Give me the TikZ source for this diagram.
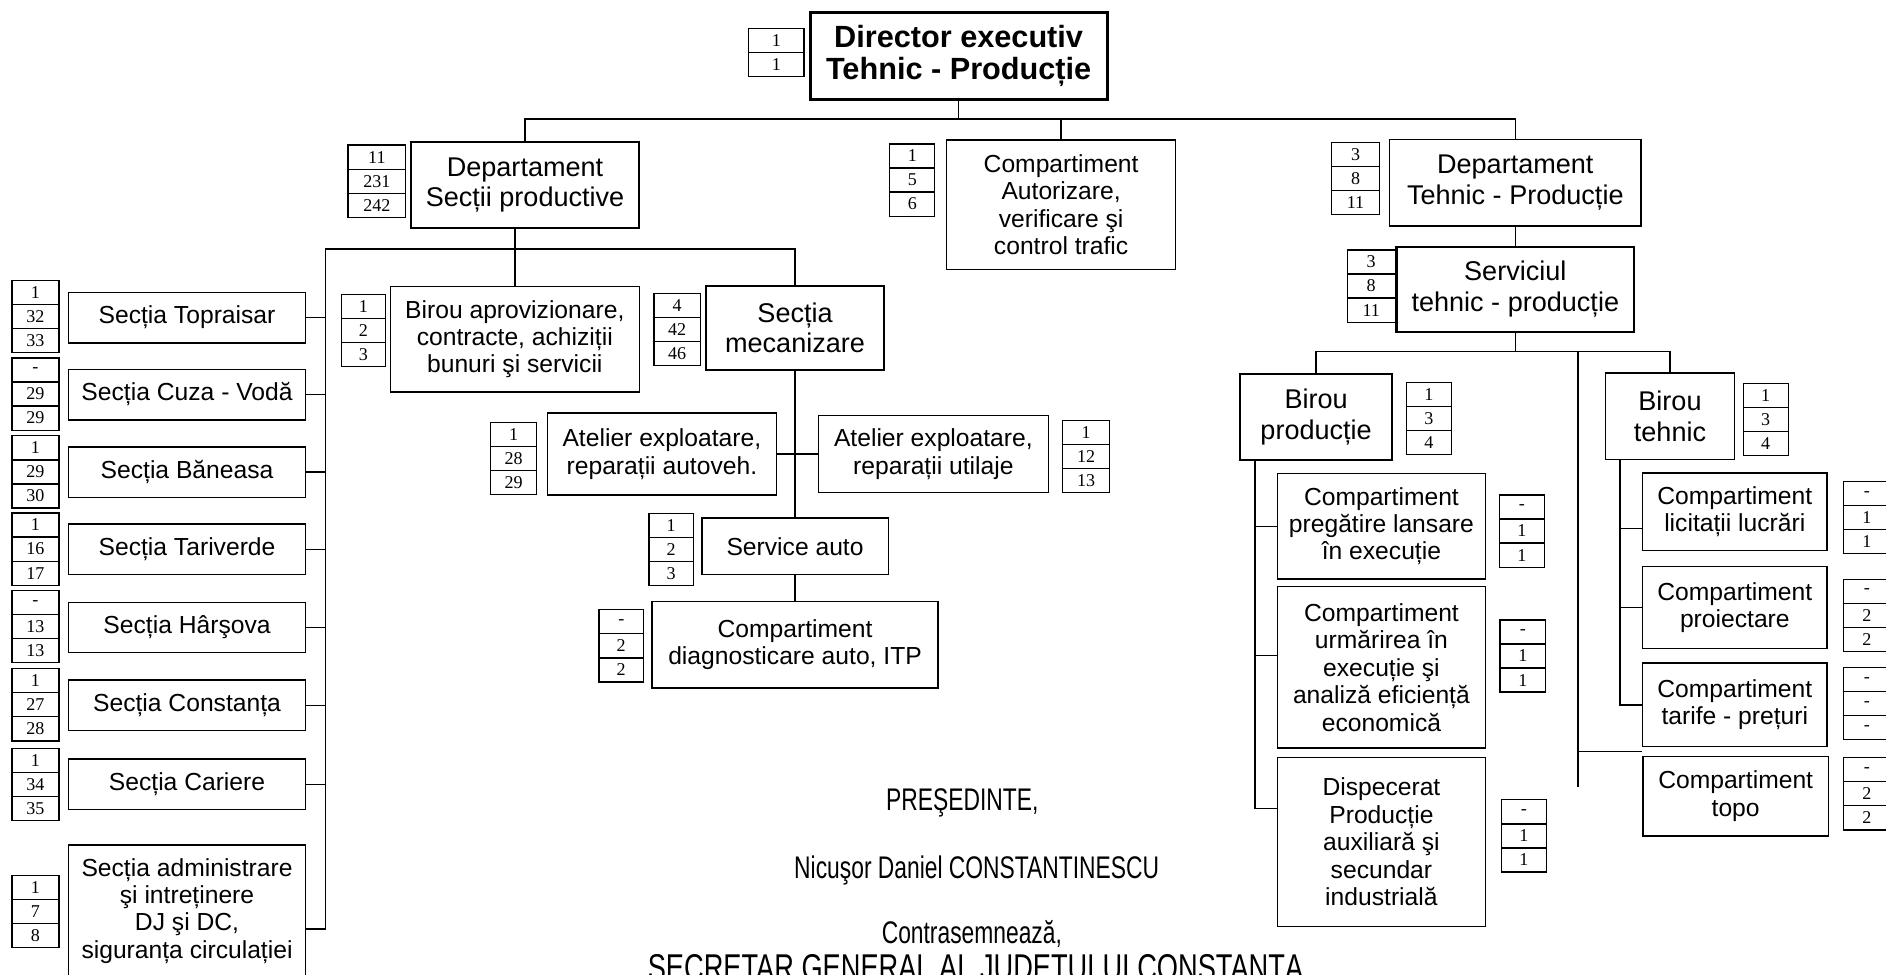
\documentclass[tikz,border=0pt]{standalone}
\usepackage{fontspec}
\setmainfont{Liberation Sans}
\newfontfamily\numfont{Liberation Serif}
\newfontfamily\narrowfont[FakeStretch=0.73]{Liberation Sans}
% column of staff counts next to a box
\newcommand{\numcol}[5][39]{%
  \foreach \val [count=\i] in {#5}
    \node[cell, minimum width=#1pt] (#2\i) at (#3, #4+20*\i-10) {\val};}
\begin{document}
\begin{tikzpicture}[x=1pt, y=-1pt,
    box/.style={draw, line width=1.2pt, align=center, inner sep=0pt, font=\fontsize{20.5}{22.8}\selectfont},
    bigbox/.style={box, font=\fontsize{22.5}{25.5}\selectfont},
    wh/.style 2 args={minimum width=#1pt, minimum height=#2pt},
    cell/.style={draw, line width=1pt, minimum height=20pt, inner sep=0pt, font=\numfont\fontsize{15}{15}\selectfont},
    link/.style={line width=1.2pt},
    sign/.style={anchor=base, font=\narrowfont\fontsize{26}{28}\selectfont}]
    \useasboundingbox (0,0) rectangle (1568,810);
    \clip (0,0) rectangle (1568,810);
    \node[box, line width=2.6pt, wh={247}{72}, font=\bfseries\fontsize{25.5}{27}\selectfont] (dir) at (797,46.5) {Director executiv\\Tehnic - Producție};
    \numcol[46]{dirn}{645.5}{23.6}{1,1}
    \node[bigbox, line width=1.6pt, wh={190}{72}] (dsp) at (436.5,153.8) {Departament\\Secții productive};
    \numcol[48]{dspn}{313.3}{120.6}{11,231,242}
    \node[box, wh={190.5}{107.6}] (cav) at (882.2,170.2) {Compartiment\\Autorizare,\\verificare şi\\control trafic};
    \numcol[37.4]{cavn}{758.5}{119.7}{1,5,6}
    \node[bigbox, wh={209}{72}] (dtp) at (1259.8,151.9) {Departament\\Tehnic - Producție};
    \numcol[39.6]{dtpn}{1127}{118.6}{3,8,11}
    \node[bigbox, line width=1.8pt, wh={197.5}{70.7}] (serv) at (1259.8,240.4) {Serviciul\\tehnic - producție};
    \numcol[40]{servn}{1140}{207.8}{3,8,11}
    % sectii
    \node[box, wh={197}{42}] (top) at (155.5,264) {Secția Topraisar};
    \numcol{topn}{29.5}{233}{1,32,33}
    \node[box, wh={197}{42}] (cuza) at (155.5,328) {Secția Cuza - Vodă};
    \numcol{cuzan}{29.5}{297.6}{-,29,29}
    \node[box, wh={197}{42}] (ban) at (155.5,392.5) {Secția Băneasa};
    \numcol{bann}{29.5}{362.4}{1,29,30}
    \node[box, wh={197}{42}] (tar) at (155.5,456.8) {Secția Tariverde};
    \numcol{tarn}{29.5}{426.5}{1,16,17}
    \node[box, wh={197}{42}] (har) at (155.5,521.7) {Secția Hârşova};
    \numcol{harn}{29.5}{491}{-,13,13}
    \node[box, wh={197}{42}] (cta) at (155.5,586.5) {Secția Constanța};
    \numcol{ctan}{29.5}{556}{1,27,28}
    \node[box, wh={197}{42}] (car) at (155.5,652) {Secția Cariere};
    \numcol{carn}{29.5}{622}{1,34,35}
    \node[box, wh={197}{128}] (adm) at (155.5,766.5) {Secția administrare\\şi intreținere\\DJ şi DC,\\siguranța circulației\\\mbox{}};
    \numcol{admn}{29.5}{728}{1,7,8}
    \node[box, wh={207}{88}] (bap) at (428,282) {Birou aprovizionare,\\contracte, achiziții\\bunuri şi servicii};
    \numcol[37]{bapn}{302.2}{245}{1,2,3}
    \node[bigbox, line width=2pt, wh={148}{70}] (mec) at (661,272.6) {Secția\\mecanizare};
    \numcol[38.6]{mecn}{563}{244}{4,42,46}
    \node[box, wh={190.6}{68}] (aav) at (550.3,377.5) {Atelier exploatare,\\reparații autoveh.};
    \numcol[38.5]{aavn}{427}{351.4}{1,28,29}
    \node[box, wh={191}{64}] (aut) at (776,377.5) {Atelier exploatare,\\reparații utilaje};
    \numcol{autn}{903}{349.7}{1,12,13}
    \node[box, wh={155}{47}] (sa) at (661,454.3) {Service auto};
    \numcol[37]{san}{558}{426.6}{1,2,3}
    \node[box, wh={238}{72}] (diag) at (661,536.1) {Compartiment\\diagnosticare auto, ITP};
    \numcol[37]{diagn}{516.5}{507}{-,2,2}
    % tehnic - productie
    \node[bigbox, wh={126.3}{71.5}] (bp) at (1094.2,346.8) {Birou\\producție};
    \numcol[37.4]{bpn}{1188}{318}{1,3,4}
    \node[bigbox, wh={107}{72}] (bt) at (1388.4,346) {Birou\\tehnic};
    \numcol[37.6]{btn}{1468}{318.6}{1,3,4}
    \node[box, wh={173}{88}] (prep) at (1148.5,437.5) {Compartiment\\pregătire lansare\\în execuție};
    \numcol[37.4]{prepn}{1265.3}{411.5}{-,1,1}
    \node[box, wh={173}{134.3}] (urm) at (1148.5,554.9) {Compartiment\\urmărirea în\\execuție şi\\analiză eficiență\\economică};
    \numcol[37.7]{urmn}{1266}{515.4}{-,1,1}
    \node[box, wh={173}{140.8}] (disp) at (1148.5,700) {Dispecerat\\Producție\\auxiliară şi\\secundar\\industrială};
    \numcol[38]{dispn}{1267}{665}{-,1,1}
    \node[box, wh={153.5}{64.6}] (lic) at (1442.3,425.5) {Compartiment\\licitații lucrări};
    \numcol{licn}{1552}{400.5}{-,1,1}
    \node[box, wh={153.5}{68}] (proi) at (1442.3,505) {Compartiment\\proiectare};
    \numcol{proin}{1552}{481.5}{-,2,2}
    \node[box, wh={153.5}{69.5}] (tarf) at (1442.3,586) {Compartiment\\tarife - prețuri};
    \numcol{tarfn}{1552}{555}{-,-,-}
    \node[box, wh={154}{66}] (topo) at (1443,662) {Compartiment\\topo};
    \numcol{topon}{1552}{630}{-,2,2}
    % connectors
    \coordinate (dbus) at (797,99);
    \draw[link] (dir.south) -- (dbus) -| (dsp.north);
    \draw[link] (dbus) -| (cav.north);
    \draw[link] (dbus) -| (dtp.north);
    \draw[link] (bap.north |- dsp.south) -- (bap.north);
    \coordinate (lsp) at (270.4,207);
    \draw[link] ([yshift=-6pt]adm.east) -| (lsp) -| (mec.north);
    \foreach \n in {top,cuza,ban,tar,har,cta,car}
      \draw[link] (\n.east) -- (\n.east -| lsp);
    \draw[link] (mec.south) -- (sa.north);
    \draw[link] (aav.east) -- (aut.west);
    \draw[link] (sa.south) -- (diag.north);
    \draw[link] (dtp.south) -- (serv.north);
    \coordinate (sbus) at (1259.8,292.3);
    \draw[link] (serv.south) -- (sbus) -| (bp.north);
    \draw[link] (sbus) -| (bt.north);
    \coordinate (mtop) at (1312,292.3);
    \coordinate (mend) at (1312,654);
    \coordinate (mbr) at (1312,625);
    \draw[link] (mtop) -- (mend);
    \draw[link] (mbr) -- (mbr -| topo.west);
    \draw[link] ([xshift=13pt]bp.south west) |- (prep.west);
    \draw[link] ([xshift=13pt]bp.south west) |- ([yshift=10pt]urm.west);
    \draw[link] ([xshift=13pt]bp.south west) |- ([yshift=28pt]disp.west);
    \draw[link] ([xshift=12.4pt]bt.south west) |- ([yshift=-14pt]lic.west);
    \draw[link] ([xshift=12.4pt]bt.south west) |- (proi.west);
    \draw[link] ([xshift=12.4pt]bt.south west) |- (tarf.west);
    % semnaturi
    \node[sign] (pres) at (800,674) {PREŞEDINTE,};
    \node[sign] (nds) at (812,730) {Nicuşor Daniel CONSTANTINESCU};
    \node[sign] (csm) at (808,784) {Contrasemnează,};
    \node[sign, font=\narrowfont\fontsize{31}{33}\selectfont] (sec) at (811,815) {SECRETAR GENERAL AL JUDEȚULUI CONSTANȚA};
\end{tikzpicture}
\end{document}
